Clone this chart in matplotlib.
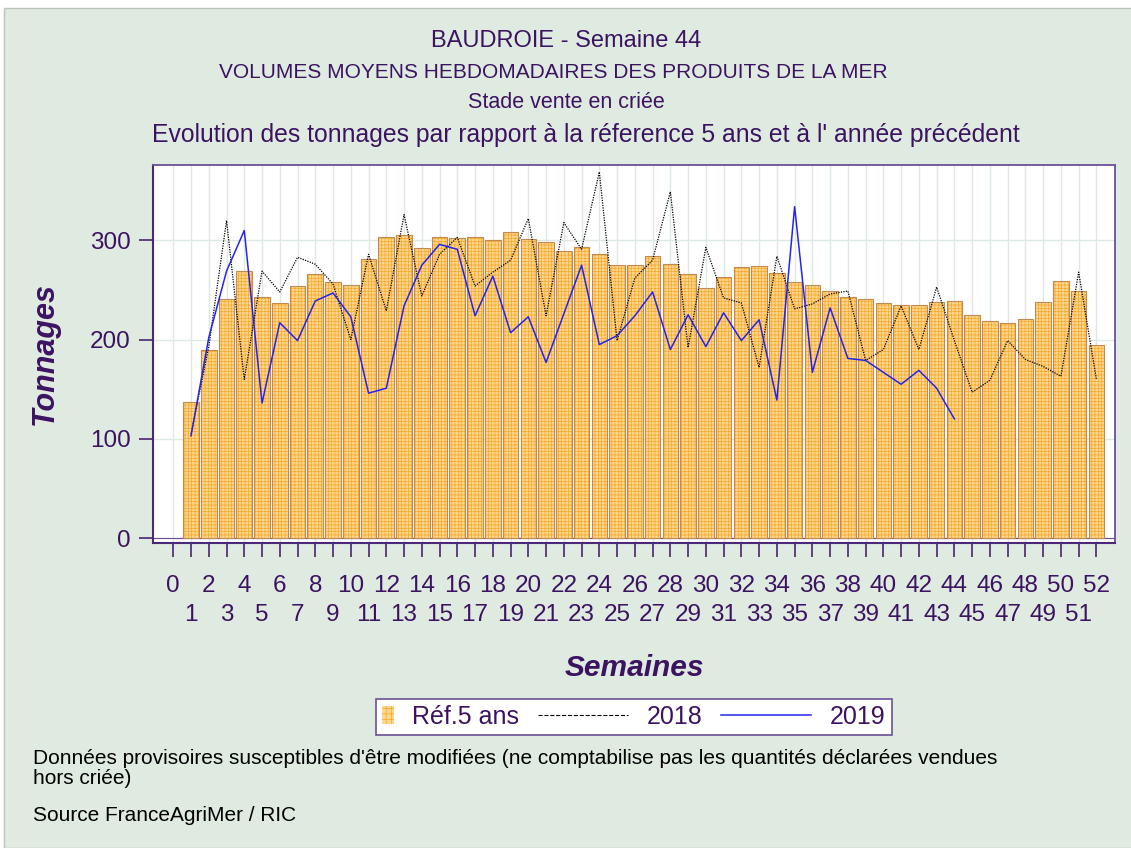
import numpy as np
import matplotlib
matplotlib.use('Agg')
import matplotlib.pyplot as plt
from matplotlib.lines import Line2D
from matplotlib.patches import Rectangle

# weekly tonnages
weeks = np.arange(1, 53)
ref5 = [137, 190, 241, 269, 243, 237, 254, 266, 258, 255,
        281, 303, 305, 292, 303, 302, 303, 300, 308, 301,
        298, 289, 293, 286, 275, 275, 284, 276, 266, 252,
        263, 273, 274, 267, 258, 255, 249, 243, 241, 237,
        235, 235, 238, 239, 225, 219, 217, 221, 238, 259,
        249, 195]
y2018 = [105, 193, 320, 160, 269, 248, 283, 276, 256, 200,
         286, 229, 326, 244, 286, 303, 254, 268, 280, 322,
         224, 318, 291, 369, 199, 262, 280, 349, 192, 293,
         242, 237, 172, 284, 231, 236, 246, 249, 179, 190,
         234, 190, 253, 199, 147, 159, 199, 180, 173, 163,
         268, 160]
y2019 = [103, 202, 269, 310, 136, 217, 199, 239, 247, 223,
         146, 151, 234, 275, 296, 291, 224, 264, 207, 223,
         177, 226, 275, 195, 204, 224, 248, 190, 225, 193,
         227, 199, 220, 139, 334, 167, 232, 181, 179, 167,
         155, 169, 151, 120]
titles = ['BAUDROIE - Semaine 44',
          'VOLUMES MOYENS HEBDOMADAIRES DES PRODUITS DE LA MER',
          'Stade vente en criée',
          "Evolution des tonnages par rapport à la réference 5 ans et à l' année précédent"]
notes = ["Données provisoires susceptibles d'être modifiées (ne comptabilise pas les quantités déclarées vendues",
         'hors criée)',
         'Source FranceAgriMer / RIC']
even_weeks = np.arange(0, 53, 2)
odd_weeks = np.arange(1, 53, 2)

purple = '#3c1361'
frame = '#6b4f96'
bg = '#dfebe1'
plt.rcParams['font.family'] = ['Liberation Sans', 'DejaVu Sans']
plt.rcParams['hatch.linewidth'] = 0.5

fig = plt.figure(figsize=(11.31, 8.48), dpi=100, facecolor='white')
fig.patches.append(Rectangle((0.0035, 0), 1, 0.99, transform=fig.transFigure,
                             facecolor=bg, edgecolor='#b8c4bc', lw=1, zorder=-10))

ax = fig.add_axes([0.1353, 0.3597, 0.8506, 0.4457])
ax.set_facecolor('white')

# bars: hatched fill first, then edges
ax.bar(weeks, ref5, width=0.88, facecolor='#ffd68e', edgecolor='#f6a828',
       hatch='+++++', linewidth=0, zorder=2)
ax.bar(weeks, ref5, width=0.88, facecolor='none', edgecolor='#c08a50',
       linewidth=0.8, zorder=2.5)
ax.plot(weeks, y2018, color='black', lw=0.9, linestyle=(0, (1, 1)), zorder=3)
ax.plot(weeks[:len(y2019)], y2019, color='#2424f0', lw=1.1, zorder=4)
ax.axhline(0, color=frame, lw=0.8, zorder=1.5)

ax.set_xlim(-1.14, 53.05)
ax.set_ylim(-5, 376)
ax.set_yticks([0, 100, 200, 300])
ax.set_xticks(even_weeks)
ax.set_xticklabels([str(i) for i in even_weeks])
ax.set_xticks(odd_weeks, minor=True)
ax.set_xticklabels([str(i) for i in odd_weeks], minor=True)
ax.grid(True, which='both', axis='x', color='#dde9e1', lw=1, zorder=0)
ax.grid(True, axis='y', color='#dde9e1', lw=1, zorder=0)
ax.set_axisbelow(True)
ax.tick_params(axis='both', which='both', colors=purple, labelsize=17.5,
               length=10, width=1.1)
ax.tick_params(axis='x', which='major', pad=13)
ax.tick_params(axis='x', which='minor', pad=34)
ax.tick_params(axis='y', pad=6)
for s in ['top', 'right']:
    ax.spines[s].set_color(frame)
    ax.spines[s].set_linewidth(1.3)
for s in ['left', 'bottom']:
    ax.spines[s].set_color('#4a2a78')
    ax.spines[s].set_linewidth(1.5)

ax.set_ylabel('Tonnages', fontsize=22, style='italic', fontweight='bold',
              color=purple, labelpad=22)
ax.set_xlabel('Semaines', fontsize=21.5, style='italic', fontweight='bold',
              color=purple, labelpad=20)

for txt, y, x, fs in zip(titles, [41, 72, 102, 135], [566, 553, 566, 586],
                         [17, 15, 15.5, 17.8]):
    fig.text(x / 1131, 1 - y / 848, txt, ha='center', va='center',
             fontsize=fs, color=purple)


class LongLine:
    def __init__(self, em):
        self.em = em

    def legend_artist(self, legend, orig, fontsize, handlebox):
        w, h = handlebox.width, handlebox.height
        ln = Line2D([w - self.em * fontsize, w], [h / 2, h / 2],
                    color=orig.get_color(), lw=orig.get_linewidth(),
                    linestyle=orig.get_linestyle())
        handlebox.add_artist(ln)
        return ln


h_bar = Rectangle((0, 0), 1, 1, facecolor='#ffd68e', edgecolor='#f6a828',
                  hatch='+++', lw=0)
h18 = Line2D([], [], color='black', lw=0.8, linestyle=(0, (0.8, 0.8)))
h19 = Line2D([], [], color='#2424f0', lw=1.1)
leg = fig.legend([h_bar, h18, h19], ['Réf.5 ans', '2018', '2019'], ncol=3,
                 loc='center', bbox_to_anchor=(0.5606, 0.1545), fontsize=18,
                 handlelength=0.45, handleheight=0.7, handletextpad=0.75,
                 columnspacing=3.9, borderpad=0.25, fancybox=False,
                 framealpha=1, edgecolor=frame, labelcolor=purple,
                 handler_map={h18: LongLine(3.6), h19: LongLine(3.6)})
leg.get_frame().set_linewidth(1.2)

for txt, ybase in zip(notes, [764, 784, 821]):
    fig.text(33 / 1131, 1 - ybase / 848, txt, fontsize=15, color='black',
             va='baseline', ha='left')

fig.savefig('out.png', dpi=100, facecolor=fig.get_facecolor())
